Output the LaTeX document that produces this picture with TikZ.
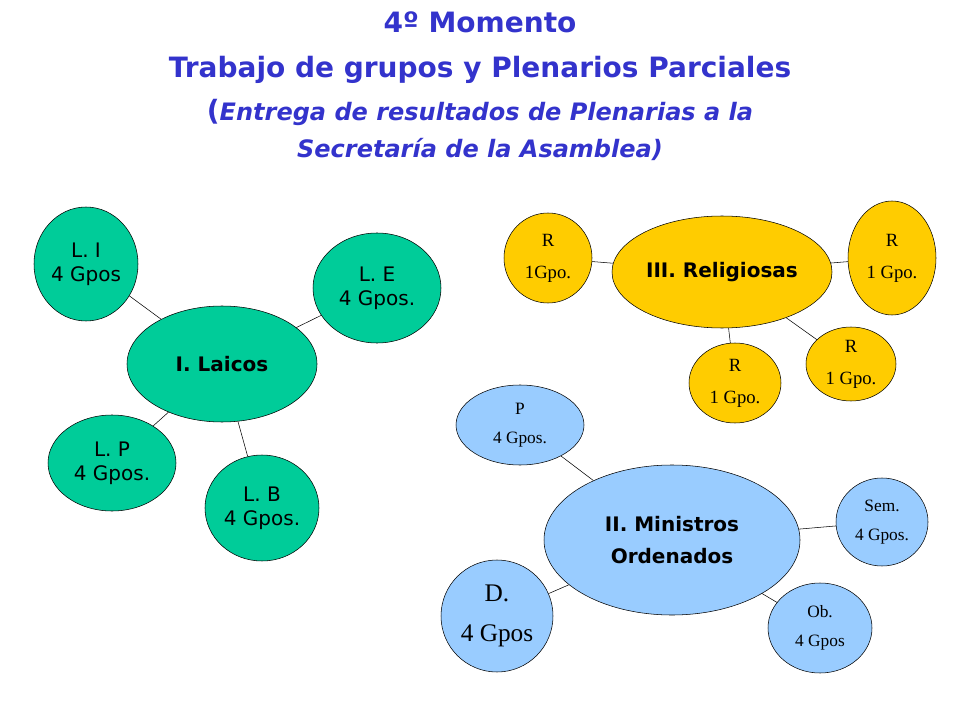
\documentclass[tikz,border=0pt]{standalone}
\usepackage{fontspec}
\setmainfont{DejaVu Sans}
\newfontfamily\timesfont{Liberation Serif}
\usetikzlibrary{shapes.geometric}
\definecolor{titleBlue}{HTML}{3333CC}
\definecolor{laicoGreen}{HTML}{00CC99}
\definecolor{religYellow}{HTML}{FFCC00}
\definecolor{minBlue}{HTML}{99CCFF}
\begin{document}
\begin{tikzpicture} [
    x=0.75pt, y=-0.75pt,
    line/.style={-, thin, color=black},
    blob/.style={ellipse, draw=black, thin, inner sep=0pt, align=center},
    laico/.style={blob, fill=laicoGreen, font=\fontsize{15}{18}\selectfont},
    relig/.style={blob, fill=religYellow, font=\timesfont\fontsize{14}{24}\selectfont},
    minis/.style={blob, fill=minBlue, font=\timesfont\fontsize{13}{22}\selectfont}
]
\useasboundingbox (0,0) rectangle (960,720);

\node[color=titleBlue, align=center, font=\bfseries\fontsize{21}{34}\selectfont] (title) at (480,86)
  {4º Momento\\Trabajo de grupos y Plenarios Parciales\\[-2pt]
   (\textit{\fontsize{18}{28}\selectfont Entrega de resultados de Plenarias a la}\\[-6pt]
   \textit{\fontsize{18}{28}\selectfont Secretaría de la Asamblea)}};

% laicos
\node[laico, minimum width=190*0.75pt, minimum height=116*0.75pt, font=\bfseries\fontsize{15}{18}\selectfont] (laicos) at (222,364) {I. Laicos};
\node[laico, minimum width=104*0.75pt, minimum height=114*0.75pt] (li) at (86,264) {L. I\\4 Gpos};
\node[laico, minimum width=128*0.75pt, minimum height=110*0.75pt] (le) at (377,288) {L. E\\4 Gpos.};
\node[laico, minimum width=128*0.75pt, minimum height=96*0.75pt] (lp) at (112,463) {L. P\\4 Gpos.};
\node[laico, minimum width=114*0.75pt, minimum height=106*0.75pt] (lb) at (262,508) {L. B\\4 Gpos.};
\draw[line] (laicos) -- (li);
\draw[line] (laicos) -- (le);
\draw[line] (laicos) -- (lp);
\draw[line] (laicos) -- (lb);

% religiosas
\node[relig, minimum width=220*0.75pt, minimum height=112*0.75pt, font=\bfseries\fontsize{15}{18}\selectfont] (relig) at (722,272) {III. Religiosas};
\node[relig, minimum width=88*0.75pt, minimum height=90*0.75pt] (rl) at (548,258) {R\\1Gpo.};
\node[relig, minimum width=88*0.75pt, minimum height=114*0.75pt] (rr) at (892,258) {R\\1 Gpo.};
\node[relig, minimum width=92*0.75pt, minimum height=80*0.75pt] (rb) at (735,383) {R\\1 Gpo.};
\node[relig, minimum width=90*0.75pt, minimum height=74*0.75pt] (rbr) at (851,364) {R\\1 Gpo.};
\draw[line] (relig) -- (rl);
\draw[line] (relig) -- (rr);
\draw[line] (relig) -- (rb);
\draw[line] (relig) -- (rbr);

% ministros
\node[minis, minimum width=256*0.75pt, minimum height=150*0.75pt, font=\bfseries\fontsize{15}{24}\selectfont] (minis) at (672,540) {II. Ministros\\Ordenados};
\node[minis, minimum width=128*0.75pt, minimum height=80*0.75pt] (mp) at (520,425) {P\\4 Gpos.};
\node[minis, minimum width=92*0.75pt, minimum height=88*0.75pt] (msem) at (882,522) {Sem.\\4 Gpos.};
\node[minis, minimum width=112*0.75pt, minimum height=112*0.75pt, font=\timesfont\fontsize{19}{30}\selectfont] (md) at (497,616) {D.\\4 Gpos};
\node[minis, minimum width=104*0.75pt, minimum height=90*0.75pt] (mob) at (820,628) {Ob.\\4 Gpos};
\draw[line] (minis) -- (mp);
\draw[line] (minis) -- (msem);
\draw[line] (minis) -- (md);
\draw[line] (minis) -- (mob);

\end{tikzpicture}
\end{document}
